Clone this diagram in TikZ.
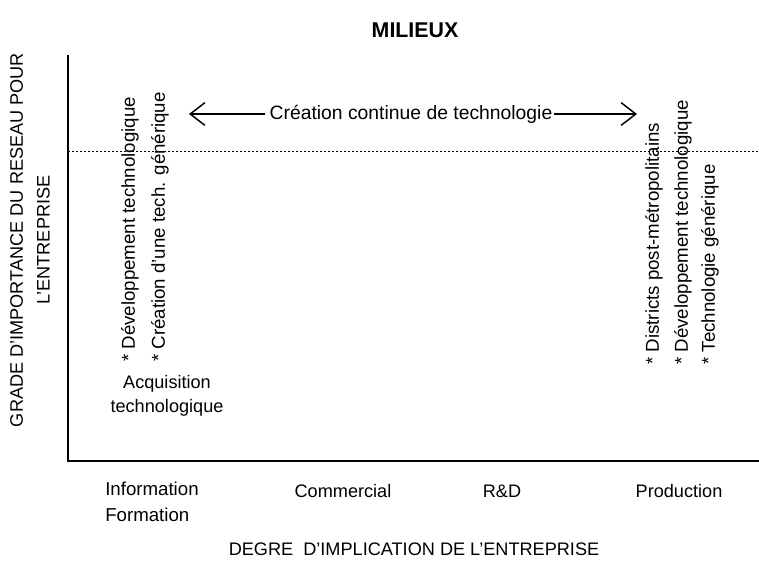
\documentclass[tikz,border=0pt]{standalone}
\usepackage{fontspec}
\setmainfont{Liberation Sans}
\usetikzlibrary{arrows.meta}
\begin{document}
\begin{tikzpicture}[x=0.75pt,y=-0.75pt,
  lbl/.style={font=\fontsize{13.6pt}{16pt}\selectfont, inner sep=0pt},
  vlbl/.style={lbl, font=\fontsize{14pt}{16pt}\selectfont, rotate=90, anchor=west},
  axis/.style={line width=1.6pt},
  level/.style={line width=0.7pt, dash pattern=on 1.5pt off 1.5pt},
  flow/.style={line width=0.9pt, -{Straight Barb[length=11pt,width=17pt,line width=1.1pt]}}]
\useasboundingbox (0,0) rectangle (759,565);

% axes
\coordinate (top) at (68,55);
\coordinate (origin) at (68,461);
\coordinate (xend) at (759,461);
\draw[axis] (top) -- (origin) -- (xend);

% threshold line
\coordinate (lvlA) at (68,151);
\coordinate (lvlB) at (759,151);
\draw[level] (lvlA) -- (lvlB);

% title
\node[lbl, font=\fontsize{16pt}{18pt}\selectfont\bfseries] (title) at (415,30) {MILIEUX};

% continuous creation arrow
\node[lbl, font=\fontsize{14.5pt}{16pt}\selectfont] (creation) at (411,114) {Création continue de technologie};
\coordinate (arrL) at (189,114);
\coordinate (arrR) at (637,114);
\draw[flow] ([xshift=-3pt]creation.west) -- (arrL);
\draw[flow] ([xshift=1pt]creation.east) -- (arrR);

% vertical item lists
\node[vlbl] (devL) at (130,362) {* Développement technologique};
\node[vlbl] (creaL) at (160,362) {* Création d'une tech. générique};
\node[vlbl] (distR) at (654,365) {* Districts post-métropolitains};
\node[vlbl] (devR) at (683,365) {* Développement technologique};
\node[vlbl] (genR) at (710,365) {* Technologie générique};

\node[lbl, align=center] (acq) at (167,396) {Acquisition\\[2pt]technologique};

% axis titles
\node[lbl, rotate=90, align=center] (ylab) at (30,240) {GRADE D'IMPORTANCE DU RESEAU POUR\\[4pt]L'ENTREPRISE};
\node[lbl] (xlab) at (414,549) {DEGRE\ \ D'IMPLICATION DE L'ENTREPRISE};

% categories
\node[lbl, font=\fontsize{14pt}{16pt}\selectfont, align=left, anchor=north west] (info) at (105,482) {Information\\[3pt]Formation};
\node[lbl] (comm) at (343,491) {Commercial};
\node[lbl] (rd) at (502,491) {R\&D};
\node[lbl] (prod) at (679,491) {Production};
\end{tikzpicture}
\end{document}
